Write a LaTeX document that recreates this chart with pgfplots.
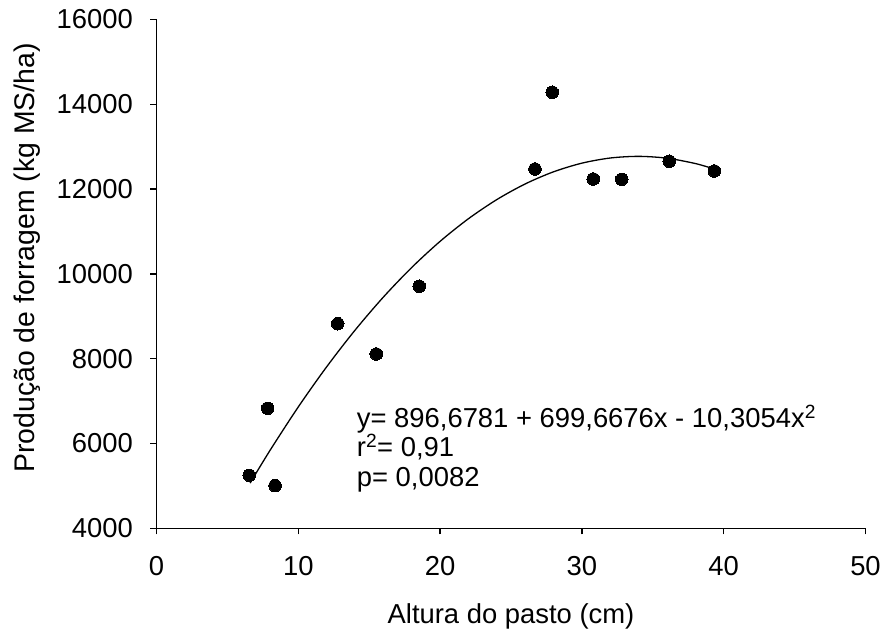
\documentclass[border=0pt]{standalone}
\usepackage{fontspec}
\setmainfont{Liberation Sans}
\usepackage{pgfplots}
\pgfplotsset{compat=1.18}
\newcommand{\bigf}{\fontsize{27.5}{33}\selectfont}
\begin{document}
\begin{tikzpicture}[font=\bigf]
\useasboundingbox (-156.5bp,-103.7bp) rectangle (727.5bp,528.3bp);
\begin{axis}[
  scale only axis, width=709bp, height=508.8bp,
  xmin=0, xmax=50, ymin=4000, ymax=16000,
  axis lines*=left,
  axis line style={black, line width=1.5bp},
  xtick={0,10,20,30,40,50},
  ytick={4000,6000,8000,10000,12000,14000,16000},
  tick align=outside, major tick length=6bp,
  tick style={black, line width=1.3bp},
  scaled y ticks=false,
  /pgf/number format/assume math mode=true,
  /pgf/number format/fixed,
  /pgf/number format/1000 sep={},
  tick label style={font=\bigf, inner sep=0pt},
  yticklabel style={xshift=-17.5bp},
  xticklabel style={yshift=-21.5bp},
  xlabel={Altura do pasto (cm)},
  ylabel={Produção de forragem (kg MS/ha)},
  every axis x label/.style={at={(axis description cs:0.5,-0.188)}, anchor=base, font=\bigf, inner sep=0pt},
  every axis y label/.style={at={(axis description cs:-0.1720,0.5314)}, anchor=base, rotate=90, font=\fontsize{28.5}{34}\selectfont, inner sep=0pt},
  clip=false,
]
\addplot[black, line width=1.3bp, smooth] coordinates {
 (6.6,5065.59) (8,5834.47) (10,6862.81) (12,7808.71) (14,8672.17)
 (16,9453.18) (18,10151.75) (20,10767.87) (22,11301.56) (24,11752.79)
 (26,12121.59) (28,12407.94) (30,12611.85) (32,12733.31) (34,12772.34)
 (36,12728.91) (38,12603.06) (39.3,12477.04)
};
\addplot[only marks, mark=*, mark size=6.3bp, mark options={fill=black, draw=black, line width=0pt}] coordinates {
 (6.54,5250) (7.84,6830) (8.36,5005) (12.78,8825) (15.5,8111) (18.53,9708)
 (26.69,12474) (27.91,14283) (30.8,12238) (32.81,12231) (36.16,12656) (39.34,12427)
};
\node[anchor=base west, inner sep=0pt, font=\bigf] at (axis cs:14.12,6380) {y= 896,6781 + 699,6676x - 10,3054x\textsuperscript{2}};
\node[anchor=base west, inner sep=0pt, font=\bigf] at (axis cs:14.12,5690) {r\textsuperscript{2}= 0,91};
\node[anchor=base west, inner sep=0pt, font=\bigf] at (axis cs:14.12,4990) {p= 0,0082};
\end{axis}
\end{tikzpicture}
\end{document}
